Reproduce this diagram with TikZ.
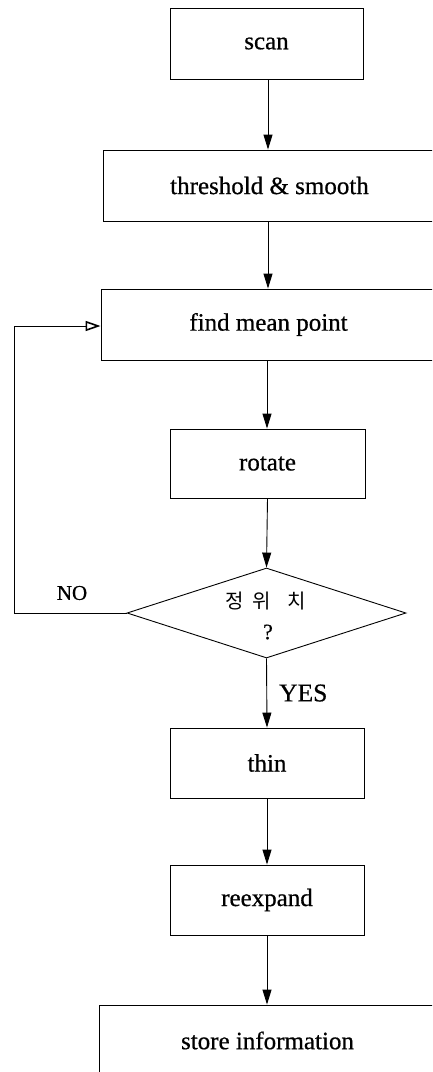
\documentclass[tikz,border=0pt]{standalone}
\usepackage{fontspec}
\setmainfont{Liberation Serif}[FakeBold=0.6]
\newfontfamily\krfont{Noto Sans CJK KR}
\usetikzlibrary{arrows.meta,shapes.geometric}
\tikzset{
  box/.style={draw, line width=0.9pt, inner sep=0pt, font=\fontsize{25}{28}\selectfont},
  arr/.style={line width=0.9pt, -{Triangle[length=15pt,width=9pt]}},
  openarr/.style={line width=0.9pt, -{Triangle[open,length=15pt,width=10pt,line width=1.6pt]}},
  lbl/.style={inner sep=0pt}
}
\begin{document}
\begin{tikzpicture}[x=1pt,y=-1pt]
\useasboundingbox (0,0) rectangle (432,1072);
\clip (0,0) rectangle (432,1072);
\node[box, minimum width=193pt, minimum height=71pt] (scan) at (266.5,43.5) {scan};
\node[box, minimum width=333pt, minimum height=71pt] (thr) at (269.5,185.5) {threshold \& smooth};
\node[box, minimum width=335pt, minimum height=71pt] (find) at (268.5,324.5) {find mean point};
\node[box, minimum width=195pt, minimum height=69pt] (rot) at (267.5,463.5) {rotate};
\node[draw, line width=0.9pt, shape=diamond, minimum width=279pt, minimum height=90pt, inner sep=0pt, aspect=3.1] (dec) at (266.5,613) {};
\node[lbl, font=\krfont\fontsize{20}{22}\selectfont] (kr) at (265.5,601) {정\hspace{9pt}위\hspace{16pt}치};
\node[lbl, font=\fontsize{22}{24}\selectfont] (q) at (268,632) {?};
\node[box, minimum width=194pt, minimum height=70pt] (thin) at (267,763) {thin};
\node[box, minimum width=194pt, minimum height=70pt] (reex) at (267,900) {reexpand};
\node[box, minimum width=337pt, minimum height=71pt] (store) at (267.5,1040.5) {store information};
\coordinate (c1) at (14,613);
\coordinate (c2) at (14,326);
\draw[arr] (scan.south -| 268,0) -- (thr.north -| 268,0);
\draw[arr] (thr.south -| 268,0) -- (find.north -| 268,0);
\draw[arr] (find.south -| 267,0) -- (rot.north -| 267,0);
\draw[arr] (rot.south) -- (dec.north);
\draw[arr] (dec.south) -- (thin.north);
\draw[arr] (thin.south) -- (reex.north);
\draw[arr] (reex.south) -- (store.north -| reex.south);
\draw[openarr] (dec.west) -- (c1) -- (c2) -- (find.west |- c2);
\node[lbl, font=\fontsize{21}{24}\selectfont] (no) at (72,593) {NO};
\node[lbl, font=\fontsize{25.5}{28}\selectfont, anchor=west] (yes) at (279,693) {YES};
\end{tikzpicture}
\end{document}
